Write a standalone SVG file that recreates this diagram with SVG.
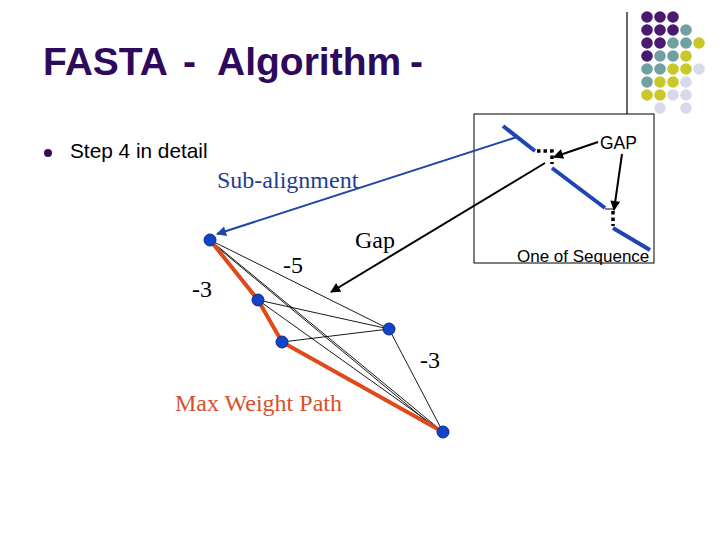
<svg xmlns="http://www.w3.org/2000/svg" width="720" height="540" viewBox="0 0 720 540">
<style>
.title{font-family:"Liberation Sans",Arial,sans-serif;font-weight:bold;font-size:39px;fill:#2E0A5C}
.sans{font-family:"Liberation Sans",Arial,sans-serif;fill:#000}
.serif{font-family:"Liberation Serif","Times New Roman",serif;font-size:24px;fill:#000}
.pu{fill:#4A1A70}.te{fill:#70A0A2}.ye{fill:#C8C82A}.la{fill:#D8D9EA}
.node{fill:#1244C8;stroke:#0A2A88;stroke-width:1}
.thin{stroke:#000;stroke-width:0.9;fill:none}
.red{stroke:#E04A1A;stroke-width:4;fill:none;stroke-linejoin:round}
.seq{stroke:#1E44B8;stroke-width:4;fill:none}
.dots{stroke:#000;stroke-width:3.5;stroke-dasharray:3.5 3;fill:none}
</style>
<defs>
<marker id="ahB" viewBox="0 0 10 10" refX="9" refY="5" markerWidth="6" markerHeight="5" orient="auto" markerUnits="strokeWidth">
<path d="M0,0 L10,5 L0,10 z" fill="#1F45A8"/>
</marker>
<marker id="ahK" viewBox="0 0 10 10" refX="9" refY="5" markerWidth="6" markerHeight="5" orient="auto" markerUnits="strokeWidth">
<path d="M0,0 L10,5 L0,10 z" fill="#000"/>
</marker>
</defs>
<rect width="720" height="540" fill="#fff"/>

<g id="decoration">
<line x1="627" y1="12" x2="627" y2="114" stroke="#000" stroke-width="1.2"/>
<g>
<circle class="pu" cx="647" cy="17" r="5.8"/><circle class="pu" cx="660" cy="17" r="5.8"/><circle class="pu" cx="673" cy="17" r="5.8"/>
<circle class="pu" cx="647" cy="30" r="5.8"/><circle class="pu" cx="660" cy="30" r="5.8"/><circle class="pu" cx="673" cy="30" r="5.8"/><circle class="te" cx="686" cy="30" r="5.8"/>
<circle class="pu" cx="647" cy="43" r="5.8"/><circle class="pu" cx="660" cy="43" r="5.8"/><circle class="te" cx="673" cy="43" r="5.8"/><circle class="te" cx="686" cy="43" r="5.8"/><circle class="ye" cx="699" cy="43" r="5.8"/>
<circle class="pu" cx="647" cy="56" r="5.8"/><circle class="te" cx="660" cy="56" r="5.8"/><circle class="te" cx="673" cy="56" r="5.8"/><circle class="ye" cx="686" cy="56" r="5.8"/>
<circle class="te" cx="647" cy="69" r="5.8"/><circle class="te" cx="660" cy="69" r="5.8"/><circle class="ye" cx="673" cy="69" r="5.8"/><circle class="ye" cx="686" cy="69" r="5.8"/><circle class="la" cx="699" cy="69" r="5.8"/>
<circle class="te" cx="647" cy="82" r="5.8"/><circle class="ye" cx="660" cy="82" r="5.8"/><circle class="ye" cx="673" cy="82" r="5.8"/><circle class="la" cx="686" cy="82" r="5.8"/>
<circle class="ye" cx="647" cy="95" r="5.8"/><circle class="ye" cx="660" cy="95" r="5.8"/><circle class="la" cx="673" cy="95" r="5.8"/><circle class="la" cx="686" cy="95" r="5.8"/>
<circle class="la" cx="660" cy="108" r="5.8"/><circle class="la" cx="686" cy="108" r="5.8"/>
</g>
</g>

<g id="title">
<text class="title" y="75"><tspan x="43">FASTA</tspan><tspan x="183">-</tspan><tspan x="217">Algorithm</tspan><tspan x="410">-</tspan></text>
</g>

<g id="bullet">
<circle cx="48" cy="153" r="4" fill="#3A0A60"/>
<text class="sans" x="70" y="158" font-size="20.8">Step 4 in detail</text>
</g>

<g id="sequence-box">
<rect x="474" y="114" width="180" height="149" fill="none" stroke="#000" stroke-width="1"/>
<line class="seq" x1="503" y1="126" x2="535" y2="151"/>
<path class="dots" d="M537,151 L552,151 L552,164"/>
<line class="seq" x1="552" y1="168" x2="605" y2="208"/>
<line x1="605" y1="209" x2="613" y2="209" stroke="#000" stroke-width="1"/>
<line class="dots" x1="613" y1="211" x2="613" y2="226"/>
<line class="seq" x1="613" y1="228" x2="650" y2="250"/>
<text class="sans" x="600" y="149" font-size="17.5">GAP</text>
<text class="sans" x="517" y="262" font-size="17">One of Sequence</text>
</g>

<g id="connectors">
<line x1="598" y1="142" x2="554" y2="157" stroke="#000" stroke-width="2" marker-end="url(#ahK)"/>
<line x1="622" y1="154" x2="614" y2="210" stroke="#000" stroke-width="2" marker-end="url(#ahK)"/>
<line x1="517" y1="137" x2="217" y2="234" stroke="#1F45A8" stroke-width="2" marker-end="url(#ahB)"/>
<line x1="545" y1="163" x2="331" y2="292" stroke="#000" stroke-width="2" marker-end="url(#ahK)"/>
<line class="thin" x1="210" y1="240" x2="389" y2="329"/>
<line class="thin" x1="210" y1="240" x2="443" y2="432"/>
<line class="thin" x1="211" y1="242" x2="441" y2="433"/>
<line class="thin" x1="258" y1="300" x2="389" y2="329"/>
<line class="thin" x1="258" y1="300" x2="443" y2="432"/>
<line class="thin" x1="282" y1="342" x2="389" y2="329"/>
<line class="thin" x1="389" y1="329" x2="443" y2="432"/>
<polyline class="red" points="210,240 258,300 282,342 443,432"/>
</g>

<g id="labels">
<text class="serif" x="217" y="188" style="fill:#1F3D8F">Sub-alignment</text>
<text class="serif" x="355" y="248">Gap</text>
<text class="serif" x="283" y="273">-5</text>
<text class="serif" x="192" y="297">-3</text>
<text class="serif" x="420" y="368">-3</text>
<text class="serif" x="175" y="411" style="fill:#D8502A">Max Weight Path</text>
</g>

<g id="node-a"><circle class="node" cx="210" cy="240" r="6"/></g>
<g id="node-b"><circle class="node" cx="258" cy="300" r="6"/></g>
<g id="node-c"><circle class="node" cx="282" cy="342" r="6"/></g>
<g id="node-d"><circle class="node" cx="389" cy="329" r="6"/></g>
<g id="node-e"><circle class="node" cx="443" cy="432" r="6"/></g>
</svg>
